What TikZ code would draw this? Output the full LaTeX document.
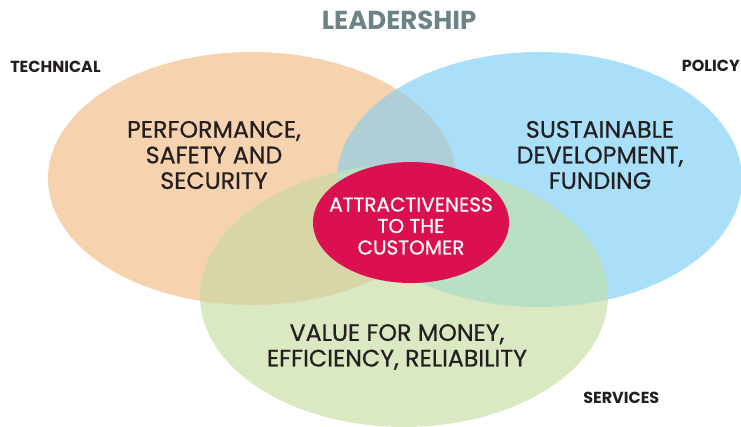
\documentclass[tikz,border=0pt]{standalone}
\usepackage{fontspec}
\usetikzlibrary{shapes.geometric}
\setmainfont{Poppins}
\newfontfamily\medfont{Poppins}[FakeBold=0.6]
\definecolor{orangeC}{HTML}{F7D2AE}
\definecolor{blueC}{HTML}{A9DFF8}
\definecolor{greenC}{HTML}{DAE9C2}
\definecolor{obC}{HTML}{AFCED6}
\definecolor{ogC}{HTML}{D8D6A6}
\definecolor{bgC}{HTML}{B9DFC4}
\definecolor{redC}{HTML}{DA1050}
\definecolor{txtC}{HTML}{231F20}
\definecolor{titleC}{HTML}{6E8386}
\tikzset{
  mainlbl/.style={align=center, text=txtC, font=\medfont\fontsize{17.8}{19.2}\selectfont},
  cornerlbl/.style={text=txtC, font=\bfseries\fontsize{12}{13}\selectfont, inner sep=0pt},
}
\begin{document}
\begin{tikzpicture}[x=0.75pt,y=-0.75pt]
\useasboundingbox (0,0) rectangle (741,427);
\def\orangeE{(252,178.5) ellipse [x radius=204, y radius=126.5]}
\def\blueE{(539.5,179.5) ellipse [x radius=202.5, y radius=127.5]}
\def\greenE{(404,296) ellipse [x radius=204, y radius=131]}
\fill[orangeC] \orangeE;
\fill[blueC] \blueE;
\fill[greenC] \greenE;
\begin{scope}
  \clip \orangeE;
  \fill[obC] \blueE;
  \fill[ogC] \greenE;
\end{scope}
\begin{scope}
  \clip \blueE;
  \fill[bgC] \greenE;
\end{scope}
\fill[redC] (411,222.5) ellipse [x radius=98, y radius=60.5];
\node[text=white, align=center, font=\medfont\fontsize{15}{16.1}\selectfont] (core) at (411,226)
  {ATTRACTIVENESS\\TO THE\\CUSTOMER};
\node[mainlbl] (tech) at (214,155) {PERFORMANCE,\\SAFETY AND\\SECURITY};
\node[mainlbl] (pol) at (600,155) {SUSTAINABLE\\DEVELOPMENT,\\FUNDING};
\node[mainlbl] (serv) at (397,347) {VALUE FOR MONEY,\\EFFICIENCY, RELIABILITY};
\node[text=titleC, font=\bfseries\fontsize{19.5}{21}\selectfont] (title) at (399,20) {LEADERSHIP};
\node[cornerlbl, anchor=west] (t1) at (10,67) {TECHNICAL};
\node[cornerlbl, anchor=east] (t2) at (740,66) {POLICY};
\node[cornerlbl, anchor=west] (t3) at (583,398) {SERVICES};
\end{tikzpicture}
\end{document}
